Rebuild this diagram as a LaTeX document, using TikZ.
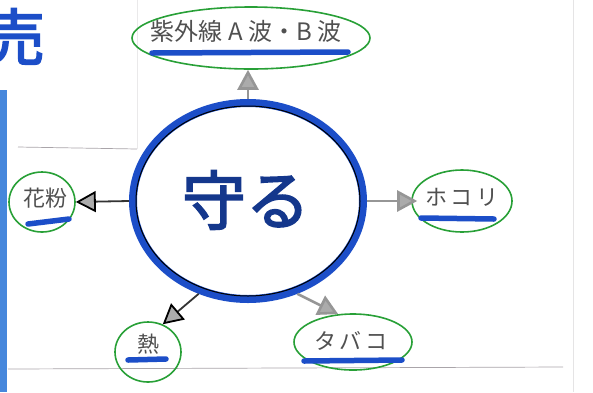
\documentclass[tikz,border=0pt]{standalone}
\usepackage{fontspec}
\newfontfamily\cjk{Noto Sans CJK JP}
\newfontfamily\cjkb{Noto Sans CJK JP}[FakeBold=2.5]
\usetikzlibrary{shapes.geometric,arrows.meta,calc}
\definecolor{pen}{RGB}{28,78,200}
\definecolor{mark}{RGB}{40,160,55}
\definecolor{ink}{RGB}{80,80,80}
\definecolor{arrgray}{RGB}{150,150,150}
\definecolor{bar}{RGB}{70,135,220}
\definecolor{paperline}{RGB}{170,165,170}
\tikzset{
  lbl/.style={font=\cjk\fontsize{22}{22}\selectfont, text=ink, inner sep=0pt},
  ring/.style={ellipse, draw=mark, line width=1.6pt, inner sep=0pt},
  uline/.style={pen, line width=5.5pt, line cap=round},
  arr/.style={arrgray, line width=2.6pt, -{Triangle[length=20pt,width=21pt,fill=arrgray!80,color=arrgray]}},
  arrk/.style={black!80, line width=1.8pt, -{Triangle[length=20pt,width=21pt,fill=arrgray!80,color=black]}},
}
\begin{document}
\begin{tikzpicture}[x=1pt,y=-1pt]
\clip[use as bounding box] (0,0) rectangle (593,392);
\fill[white] (0,0) rectangle (593,392);
% paper details
\fill[bar] (0,90) rectangle (7,392);
\node[text=pen, font=\cjkb\fontsize{62}{62}\selectfont, inner sep=0pt] (uru) at (14,37) {売};
\draw[paperline, line width=0.7pt] (18,147) -- (137,149);
\draw[paperline!25, line width=0.4pt] (137,0) -- (137,149);
\draw[paperline, line width=0.7pt] (8,369) -- (563,367);
\draw[paperline!30, line width=0.4pt] (573,0) -- (573,392);
% centre
\node[ellipse, draw=pen, line width=8pt, minimum width=230pt, minimum height=196pt] (c) at (248,201) {};
\draw[black, line width=1pt] (c.center) ellipse (112 and 95);
\node[text=pen!70!black, font=\cjkb\fontsize{64}{64}\selectfont, inner sep=0pt] (mamoru) at (246,200) {守る};
% labels
\node[ring, minimum width=238pt, minimum height=62pt] (e1) at (251,38) {};
\node[lbl, font=\cjk\fontsize{24}{24}\selectfont] (t1) at (246,31) {紫外線 A 波・B 波};
\draw[uline] (152,53) -- (348,52);

\node[ring, minimum width=66pt, minimum height=60pt] (e2) at (42,202) {};
\node[lbl] (t2) at (45,198) {花粉};
\draw[uline] (28,224) -- (69,219);

\node[ring, minimum width=100pt, minimum height=62pt] (e3) at (462,201) {};
\node[lbl] (t3) at (462,197) {ホ\,コ\,リ};
\draw[uline] (421,218) -- (494,219);

\node[ring, minimum width=66pt, minimum height=60pt] (e4) at (148,352) {};
\node[lbl] (t4) at (148,344) {熱};
\draw[uline] (128,360) -- (166,359);

\node[ring, minimum width=118pt, minimum height=56pt] (e5) at (353,342) {};
\node[lbl] (t5) at (351,341) {タ\,バ\,コ};
\draw[uline] (304,361) -- (402,360);
% connectors
\draw[arr] (c.north) -- (c.north |- e1.south);
\draw[arrk] (c.west) -- (e2.east);
\draw[arr] (c.east) -- ($(e3.west)+(6,0)$);
\draw[arrk] (c.242) -- (e4.62);
\draw[arr] (c.298) -- (e5.118);
\end{tikzpicture}
\end{document}
